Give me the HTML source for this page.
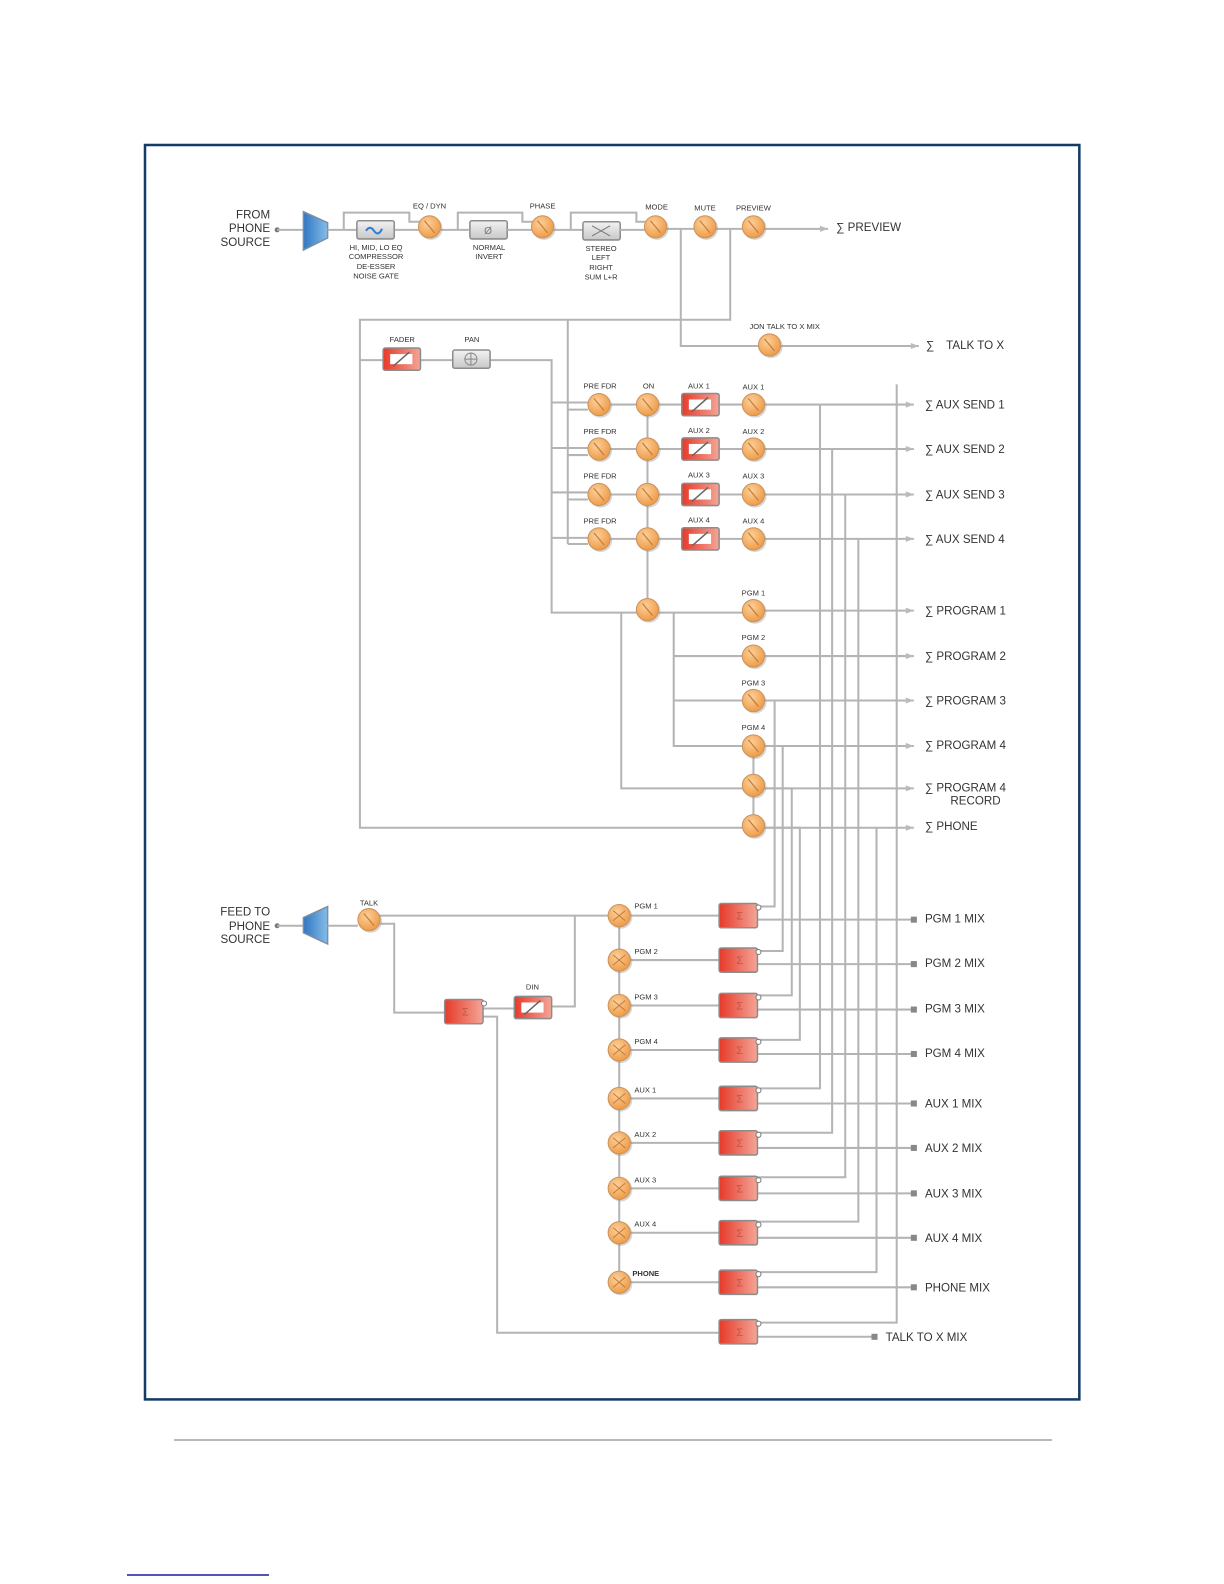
<!DOCTYPE html>
<html><head><meta charset="utf-8"><style>
html,body{margin:0;padding:0;background:#fff}
svg{display:block}
text{font-family:"Liberation Sans",sans-serif;fill:#333}
.s{font-size:7.5px}
.m{font-size:11.5px}
.l{fill:none;stroke:#b4b4b4;stroke-width:2}
</style></head><body>
<svg width="1224" height="1584" viewBox="0 0 1224 1584" xmlns="http://www.w3.org/2000/svg">
<defs>
<radialGradient id="og" cx="40%" cy="35%" r="65%"><stop offset="0" stop-color="#fcd09a"/><stop offset="1" stop-color="#ee9c48"/></radialGradient>
<linearGradient id="rg" x1="0" x2="1"><stop offset="0" stop-color="#e63a2a"/><stop offset="1" stop-color="#f4a596"/></linearGradient>
<linearGradient id="gg" x1="0" y1="0" x2="0" y2="1"><stop offset="0" stop-color="#f2f2f2"/><stop offset="1" stop-color="#c8c8c8"/></linearGradient>
<linearGradient id="bg" x1="0" x2="1"><stop offset="0" stop-color="#2f76c2"/><stop offset="1" stop-color="#86bde8"/></linearGradient>
<g id="k"><circle r="11.5" fill="#8a8a8a" opacity=".35" cx="1.5" cy="1.5"/><circle r="11" fill="url(#og)" stroke="#c9925c" stroke-width="1"/><line x1="-5" y1="-6" x2="5" y2="6" stroke="#c47c3e" stroke-width="1.2"/></g>
<g id="kx"><circle r="11.5" fill="#8a8a8a" opacity=".35" cx="1.5" cy="1.5"/><circle r="11" fill="url(#og)" stroke="#c9925c" stroke-width="1"/><line x1="-6" y1="-5" x2="6" y2="5" stroke="#c47c3e" stroke-width="1"/><line x1="-6" y1="5" x2="6" y2="-5" stroke="#c47c3e" stroke-width="1"/></g>
<g id="fd"><rect x="-18" y="-11" width="37" height="22" rx="2" fill="url(#rg)" stroke="#8c8c8c" stroke-width="1.5"/><rect x="-11" y="-5" width="22" height="10" fill="#fff"/><line x1="-8" y1="7" x2="8" y2="-7" stroke="#666" stroke-width="1.5"/></g>
<g id="sb"><rect x="-19" y="-12" width="38" height="24" rx="2" fill="url(#rg)" stroke="#8c8c8c" stroke-width="1.5"/><text x="-2" y="4" style="font-size:11px;fill:#c0584a">Σ</text><circle cx="20" cy="-8" r="2.5" fill="#fff" stroke="#777"/></g>
<g id="gb"><rect x="-18" y="-9" width="37" height="18" rx="2" fill="url(#gg)" stroke="#8c8c8c" stroke-width="1.5"/></g>
</defs>

<line x1="174" y1="1440" x2="1052" y2="1440" stroke="#a0a0a0" stroke-width="1.5"/>
<line x1="127" y1="1575" x2="269" y2="1575" stroke="#1c1ca0" stroke-width="1.5"/>

<g transform="translate(145,145) scale(1.009,1.01) translate(-143,-143)">
<rect x="143" y="143" width="926" height="1242" fill="none" stroke="#143a68" stroke-width="2.5"/>

<text class="m" x="267" y="216" text-anchor="end">FROM</text>
<text class="m" x="267" y="229" text-anchor="end">PHONE</text>
<text class="m" x="267" y="243" text-anchor="end">SOURCE</text>
<circle cx="274" cy="227" r="2.5" fill="#777"/>
<polyline class="l" points="274,227 300,227"/>
<polygon points="300,209 324,220 324,235 300,247" fill="url(#bg)" stroke="#7b8ea4" stroke-width="1.5"/>
<polyline class="l" points="324,227 353,227"/>
<polyline class="l" points="340,227 340,210 405,210 405,219 416,219"/>
<polyline class="l" points="390,227 415,227"/>
<use href="#gb" x="371" y="227"/>
<path d="M362,228 q4,-6 8,0 q4,6 8,-2" stroke="#2f7fd0" stroke-width="2" fill="none"/>
<polyline class="l" points="436,227 464,227"/>
<polyline class="l" points="453,227 453,210 517,210 517,219 528,219"/>
<use href="#gb" x="483" y="227"/>
<text x="483" y="231" text-anchor="middle" style="font-size:10px;fill:#777">Ø</text>
<polyline class="l" points="502,227 528,227"/>
<polyline class="l" points="548,227 577,227"/>
<polyline class="l" points="565,227 565,210 630,210 630,219 640,219"/>
<use href="#gb" x="595" y="228"/>
<path d="M586,223 L604,233 M586,233 L604,223" stroke="#777" stroke-width="1"/>
<polyline class="l" points="614,227 640,227"/>
<polyline class="l" points="660,226 820,226"/>
<polygon points="812,223 820,226 812,229" fill="#bbb"/>
<use href="#k" x="425" y="224"/><use href="#k" x="537" y="224"/><use href="#k" x="649" y="224"/><use href="#k" x="698" y="224"/><use href="#k" x="746" y="224"/>
<text class="s" x="425" y="206" text-anchor="middle">EQ / DYN</text>
<text class="s" x="537" y="206" text-anchor="middle">PHASE</text>
<text class="s" x="650" y="207" text-anchor="middle">MODE</text>
<text class="s" x="698" y="208" text-anchor="middle">MUTE</text>
<text class="s" x="746" y="208" text-anchor="middle">PREVIEW</text>
<text class="s" x="372" y="247" text-anchor="middle">HI, MID, LO EQ</text>
<text class="s" x="372" y="256" text-anchor="middle">COMPRESSOR</text>
<text class="s" x="372" y="266" text-anchor="middle">DE-ESSER</text>
<text class="s" x="372" y="275" text-anchor="middle">NOISE GATE</text>
<text class="s" x="484" y="247" text-anchor="middle">NORMAL</text>
<text class="s" x="484" y="256" text-anchor="middle">INVERT</text>
<text class="s" x="595" y="248" text-anchor="middle">STEREO</text>
<text class="s" x="595" y="257" text-anchor="middle">LEFT</text>
<text class="s" x="595" y="267" text-anchor="middle">RIGHT</text>
<text class="s" x="595" y="276" text-anchor="middle">SUM L+R</text>
<text class="m" x="828" y="228">∑ PREVIEW</text>

<polyline class="l" points="674,226 674,342 910,342"/>
<polyline class="l" points="723,226 723,316 356,316 356,819 735,819"/>
<polygon points="902,339 910,342 902,345" fill="#bbb"/>
<use href="#k" x="762" y="341"/>
<text class="s" x="777" y="325" text-anchor="middle">JON TALK TO X MIX</text>
<text class="m" x="917" y="345">∑</text><text class="m" x="937" y="345">TALK TO X</text>
<polyline class="l" points="562,316 562,538"/>
<polyline class="l" points="356,356 546,356 546,606 735,606"/>
<use href="#fd" x="397" y="355"/>
<use href="#gb" x="466" y="355"/>
<circle cx="466" cy="355" r="6" fill="none" stroke="#888"/><path d="M460,355 h12 M466,349 v12" stroke="#888"/>
<text class="s" x="398" y="338" text-anchor="middle">FADER</text>
<text class="s" x="467" y="338" text-anchor="middle">PAN</text>

<g>
<polyline class="l" points="546,398 582,398"/><polyline class="l" points="562,405 582,405"/>
<polyline class="l" points="546,443 582,443"/><polyline class="l" points="562,450 582,450"/>
<polyline class="l" points="546,487 582,487"/><polyline class="l" points="562,494 582,494"/>
<polyline class="l" points="546,532 582,532"/><polyline class="l" points="562,538 582,538"/>
<polyline class="l" points="593,400 905,400"/><polyline class="l" points="593,444 905,444"/>
<polyline class="l" points="593,489 905,489"/><polyline class="l" points="593,533 905,533"/>
<polyline class="l" points="641,400 641,603"/>
<polyline class="l" points="735,604 905,604"/>
<polyline class="l" points="667,606 667,738 735,738"/>
<polyline class="l" points="667,649 905,649"/><polyline class="l" points="667,693 905,693"/><polyline class="l" points="746,738 905,738"/>
<polyline class="l" points="615,606 615,780 905,780"/>
<polyline class="l" points="735,819 905,819"/>
<polyline class="l" points="746,738 746,817"/>
<polygon points="897,397 905,400 897,403" fill="#bbb"/><polygon points="897,441 905,444 897,447" fill="#bbb"/>
<polygon points="897,486 905,489 897,492" fill="#bbb"/><polygon points="897,530 905,533 897,536" fill="#bbb"/>
<polygon points="897,601 905,604 897,607" fill="#bbb"/><polygon points="897,646 905,649 897,652" fill="#bbb"/>
<polygon points="897,690 905,693 897,696" fill="#bbb"/><polygon points="897,735 905,738 897,741" fill="#bbb"/>
<polygon points="897,777 905,780 897,783" fill="#bbb"/><polygon points="897,816 905,819 897,822" fill="#bbb"/>
</g>

<g class="l">
<polyline class="l" points="746,693 767,693 767,897 750,897"/>
<polyline class="l" points="746,738 775,738 775,941 750,941"/>
<polyline class="l" points="746,780 784,780 784,985 750,985"/>
<polyline class="l" points="746,819 792,819 792,1029 750,1029"/>
<polyline class="l" points="812,400 812,1077 750,1077"/>
<polyline class="l" points="824,444 824,1121 750,1121"/>
<polyline class="l" points="837,489 837,1165 750,1165"/>
<polyline class="l" points="850,533 850,1209 750,1209"/>
<polyline class="l" points="868,819 868,1259 750,1259"/>
<polyline class="l" points="888,380 888,1309 750,1309"/>
</g>

<use href="#k" x="593" y="400"/><use href="#k" x="641" y="400"/><use href="#fd" x="693" y="400"/><use href="#k" x="746" y="400"/>
<use href="#k" x="593" y="444"/><use href="#k" x="641" y="444"/><use href="#fd" x="693" y="444"/><use href="#k" x="746" y="444"/>
<use href="#k" x="593" y="489"/><use href="#k" x="641" y="489"/><use href="#fd" x="693" y="489"/><use href="#k" x="746" y="489"/>
<use href="#k" x="593" y="533"/><use href="#k" x="641" y="533"/><use href="#fd" x="693" y="533"/><use href="#k" x="746" y="533"/>
<use href="#k" x="641" y="603"/>
<use href="#k" x="746" y="604"/><use href="#k" x="746" y="649"/><use href="#k" x="746" y="693"/><use href="#k" x="746" y="738"/><use href="#k" x="746" y="777"/><use href="#k" x="746" y="817"/>
<g class="s" text-anchor="middle">
<text x="594" y="384">PRE FDR</text><text x="642" y="384">ON</text><text x="692" y="384">AUX 1</text><text x="746" y="385">AUX 1</text>
<text x="594" y="429">PRE FDR</text><text x="692" y="428">AUX 2</text><text x="746" y="429">AUX 2</text>
<text x="594" y="473">PRE FDR</text><text x="692" y="472">AUX 3</text><text x="746" y="473">AUX 3</text>
<text x="594" y="518">PRE FDR</text><text x="692" y="517">AUX 4</text><text x="746" y="518">AUX 4</text>
<text x="746" y="589">PGM 1</text><text x="746" y="633">PGM 2</text><text x="746" y="678">PGM 3</text><text x="746" y="722">PGM 4</text>
</g>
<g class="m">
<text x="916" y="404">∑ AUX SEND 1</text><text x="916" y="448">∑ AUX SEND 2</text>
<text x="916" y="493">∑ AUX SEND 3</text><text x="916" y="537">∑ AUX SEND 4</text>
<text x="916" y="608">∑ PROGRAM 1</text><text x="916" y="653">∑ PROGRAM 2</text>
<text x="916" y="697">∑ PROGRAM 3</text><text x="916" y="741">∑ PROGRAM 4</text>
<text x="916" y="783">∑ PROGRAM 4</text><text x="991" y="796" text-anchor="end">RECORD</text>
<text x="916" y="821">∑ PHONE</text>
</g>

<text class="m" x="267" y="906" text-anchor="end">FEED TO</text>
<text class="m" x="267" y="920" text-anchor="end">PHONE</text>
<text class="m" x="267" y="933" text-anchor="end">SOURCE</text>
<circle cx="274" cy="916" r="2.5" fill="#777"/>
<polyline class="l" points="274,916 304,916"/>
<polygon points="324,897 300,908 300,923 324,934" fill="url(#bg)" stroke="#7b8ea4" stroke-width="1.5"/>
<polyline class="l" points="324,916 354,916"/>
<polyline class="l" points="365,906 613,906"/>
<polyline class="l" points="376,914 390,914 390,1002 441,1002"/>
<polyline class="l" points="569,906 569,996 545,996"/>
<polyline class="l" points="478,998 509,998"/>
<polyline class="l" points="478,1006 492,1006 492,1319 712,1319"/>
<use href="#k" x="365" y="910"/>
<text class="s" x="365" y="896" text-anchor="middle">TALK</text>
<use href="#sb" x="459" y="1001"/>
<use href="#fd" x="527" y="997"/>
<text class="s" x="527" y="979" text-anchor="middle">DIN</text>
<polyline class="l" points="613,906 613,1269"/>
<g>
<polyline class="l" points="613,906 712,906"/><polyline class="l" points="613,950 712,950"/><polyline class="l" points="613,995 712,995"/>
<polyline class="l" points="613,1039 712,1039"/><polyline class="l" points="613,1087 712,1087"/><polyline class="l" points="613,1131 712,1131"/>
<polyline class="l" points="613,1176 712,1176"/><polyline class="l" points="613,1220 712,1220"/><polyline class="l" points="613,1269 712,1269"/>
<polyline class="l" points="750,910 903,910"/><polyline class="l" points="750,954 903,954"/><polyline class="l" points="750,999 903,999"/>
<polyline class="l" points="750,1043 903,1043"/><polyline class="l" points="750,1092 903,1092"/><polyline class="l" points="750,1136 903,1136"/>
<polyline class="l" points="750,1181 903,1181"/><polyline class="l" points="750,1225 903,1225"/><polyline class="l" points="750,1274 903,1274"/>
<polyline class="l" points="750,1323 865,1323"/>
</g>
<g fill="#888">
<rect x="902" y="907" width="6" height="6"/><rect x="902" y="951" width="6" height="6"/><rect x="902" y="996" width="6" height="6"/>
<rect x="902" y="1040" width="6" height="6"/><rect x="902" y="1089" width="6" height="6"/><rect x="902" y="1133" width="6" height="6"/>
<rect x="902" y="1178" width="6" height="6"/><rect x="902" y="1222" width="6" height="6"/><rect x="902" y="1271" width="6" height="6"/>
<rect x="863" y="1320" width="6" height="6"/>
</g>
<use href="#kx" x="613" y="906"/><use href="#kx" x="613" y="950"/><use href="#kx" x="613" y="995"/><use href="#kx" x="613" y="1039"/>
<use href="#kx" x="613" y="1087"/><use href="#kx" x="613" y="1131"/><use href="#kx" x="613" y="1176"/><use href="#kx" x="613" y="1220"/><use href="#kx" x="613" y="1269"/>
<use href="#sb" x="731" y="906"/><use href="#sb" x="731" y="950"/><use href="#sb" x="731" y="995"/><use href="#sb" x="731" y="1039"/>
<use href="#sb" x="731" y="1087"/><use href="#sb" x="731" y="1131"/><use href="#sb" x="731" y="1176"/><use href="#sb" x="731" y="1220"/><use href="#sb" x="731" y="1269"/><use href="#sb" x="731" y="1318"/>
<g class="s">
<text x="628" y="899">PGM 1</text><text x="628" y="944">PGM 2</text><text x="628" y="989">PGM 3</text><text x="628" y="1033">PGM 4</text>
<text x="628" y="1081">AUX  1</text><text x="628" y="1125">AUX  2</text><text x="628" y="1170">AUX  3</text><text x="628" y="1214">AUX 4</text>
<text x="626" y="1263" font-weight="bold">PHONE</text>
</g>
<g class="m">
<text x="916" y="913">PGM 1 MIX</text><text x="916" y="957">PGM 2 MIX</text><text x="916" y="1002">PGM 3 MIX</text>
<text x="916" y="1046">PGM 4 MIX</text><text x="916" y="1096">AUX 1 MIX</text><text x="916" y="1140">AUX 2 MIX</text>
<text x="916" y="1185">AUX 3 MIX</text><text x="916" y="1229">AUX 4 MIX</text><text x="916" y="1278">PHONE MIX</text>
<text x="877" y="1327">TALK TO X MIX</text>
</g>
</g>
</svg>
</body></html>
